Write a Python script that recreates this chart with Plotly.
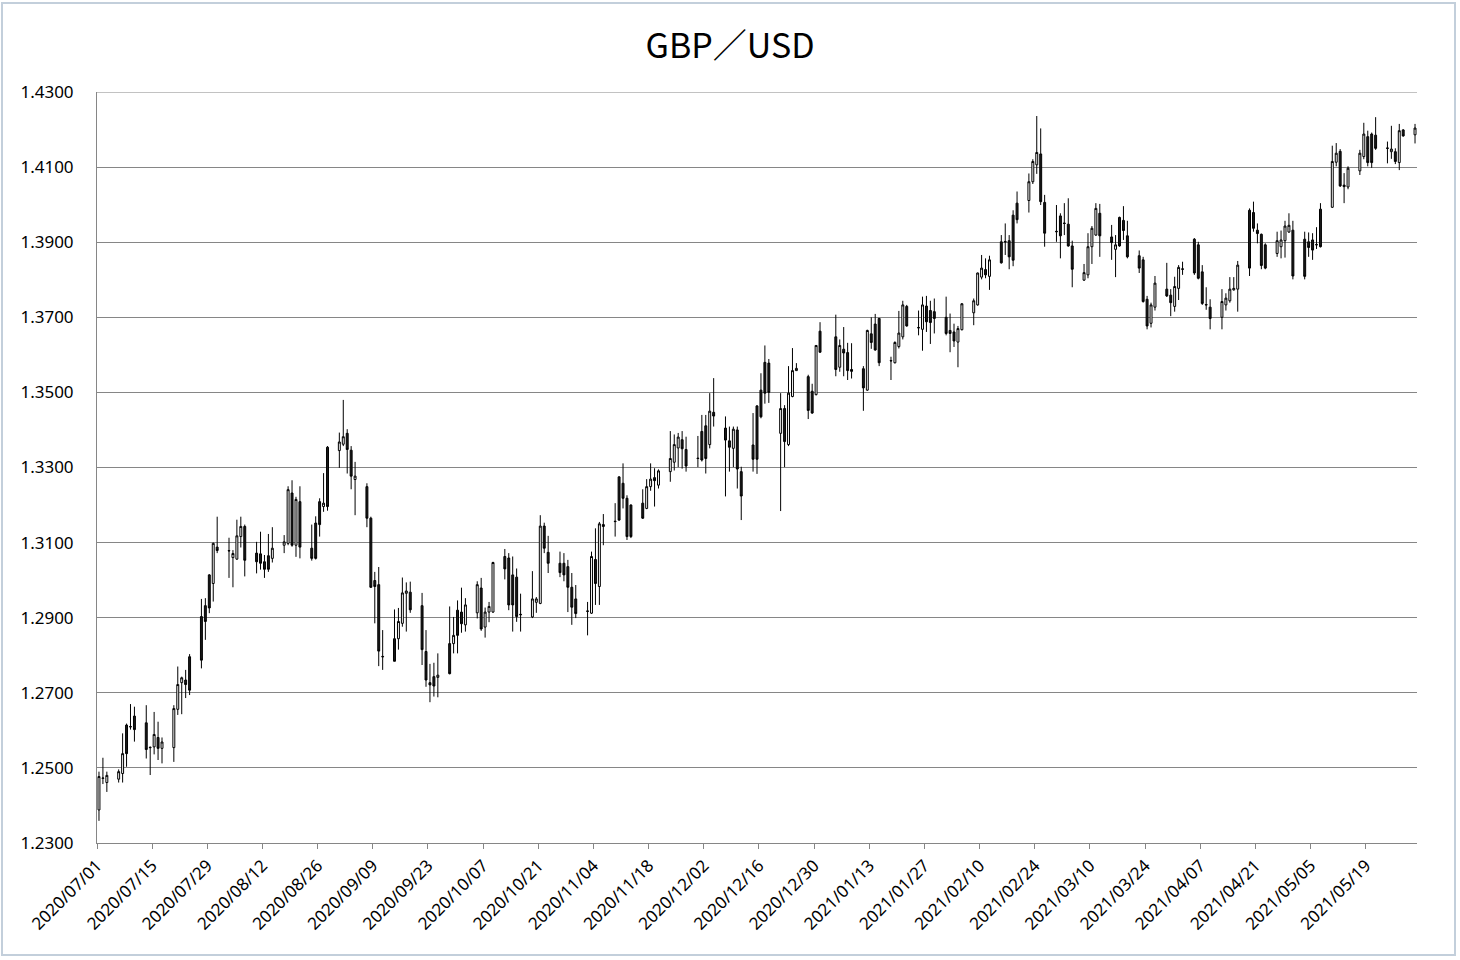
import pandas as pd
import plotly.graph_objects as go

dates = [
"2020-07-01","2020-07-02","2020-07-03","2020-07-06","2020-07-07","2020-07-08","2020-07-09","2020-07-10",
"2020-07-13","2020-07-14","2020-07-15","2020-07-16","2020-07-17","2020-07-20","2020-07-21","2020-07-22",
"2020-07-23","2020-07-24","2020-07-27","2020-07-28","2020-07-29","2020-07-30","2020-07-31",
"2020-08-03","2020-08-04","2020-08-05","2020-08-06","2020-08-07","2020-08-10","2020-08-11","2020-08-12",
"2020-08-13","2020-08-14","2020-08-17","2020-08-18","2020-08-19","2020-08-20","2020-08-21","2020-08-24",
"2020-08-25","2020-08-26","2020-08-27","2020-08-28","2020-08-31",
"2020-09-01","2020-09-02","2020-09-03","2020-09-04","2020-09-07","2020-09-08","2020-09-09","2020-09-10",
"2020-09-11","2020-09-14","2020-09-15","2020-09-16","2020-09-17","2020-09-18","2020-09-21","2020-09-22",
"2020-09-23","2020-09-24","2020-09-25","2020-09-28","2020-09-29","2020-09-30",
"2020-10-01","2020-10-02","2020-10-05","2020-10-06","2020-10-07","2020-10-08","2020-10-09","2020-10-12",
"2020-10-13","2020-10-14","2020-10-15","2020-10-16","2020-10-19","2020-10-20","2020-10-21","2020-10-22",
"2020-10-23","2020-10-26","2020-10-27","2020-10-28","2020-10-29","2020-10-30",
"2020-11-02","2020-11-03","2020-11-04","2020-11-05","2020-11-06","2020-11-09","2020-11-10","2020-11-11",
"2020-11-12","2020-11-13","2020-11-16","2020-11-17","2020-11-18","2020-11-19","2020-11-20","2020-11-23",
"2020-11-24","2020-11-25","2020-11-26","2020-11-27","2020-11-30",
"2020-12-01","2020-12-02","2020-12-03","2020-12-04","2020-12-07","2020-12-08","2020-12-09","2020-12-10",
"2020-12-11","2020-12-14","2020-12-15","2020-12-16","2020-12-17","2020-12-18","2020-12-21","2020-12-22",
"2020-12-23","2020-12-24","2020-12-25","2020-12-28","2020-12-29","2020-12-30","2020-12-31",
"2021-01-04","2021-01-05","2021-01-06","2021-01-07","2021-01-08","2021-01-11","2021-01-12","2021-01-13",
"2021-01-14","2021-01-15","2021-01-18","2021-01-19","2021-01-20","2021-01-21","2021-01-22","2021-01-25",
"2021-01-26","2021-01-27","2021-01-28","2021-01-29",
"2021-02-01","2021-02-02","2021-02-03","2021-02-04","2021-02-05","2021-02-08","2021-02-09","2021-02-10",
"2021-02-11","2021-02-12","2021-02-15","2021-02-16","2021-02-17","2021-02-18","2021-02-19","2021-02-22",
"2021-02-23","2021-02-24","2021-02-25","2021-02-26",
"2021-03-01","2021-03-02","2021-03-03","2021-03-04","2021-03-05","2021-03-08","2021-03-09","2021-03-10",
"2021-03-11","2021-03-12","2021-03-15","2021-03-16","2021-03-17","2021-03-18","2021-03-19","2021-03-22",
"2021-03-23","2021-03-24","2021-03-25","2021-03-26","2021-03-29","2021-03-30","2021-03-31",
"2021-04-01","2021-04-02","2021-04-05","2021-04-06","2021-04-07","2021-04-08","2021-04-09","2021-04-12",
"2021-04-13","2021-04-14","2021-04-15","2021-04-16","2021-04-19","2021-04-20","2021-04-21","2021-04-22",
"2021-04-23","2021-04-26","2021-04-27","2021-04-28","2021-04-29","2021-04-30",
"2021-05-03","2021-05-04","2021-05-05","2021-05-06","2021-05-07","2021-05-10","2021-05-11","2021-05-12",
"2021-05-13","2021-05-14","2021-05-17","2021-05-18","2021-05-19","2021-05-20","2021-05-21","2021-05-24",
"2021-05-25","2021-05-26","2021-05-27","2021-05-28","2021-05-31",
]

open_ = [
1.2388,1.2472,1.2461,1.2470,1.2485,1.2614,1.2609,1.2638,
1.2620,1.2555,1.2556,1.2581,1.2552,1.2554,1.2656,1.2727,
1.2734,1.2796,1.2903,1.2932,1.3014,1.2991,1.3088,
1.3079,1.3060,1.3056,1.3116,1.3143,1.3072,1.3070,1.3049,
1.3065,1.3058,1.3093,1.3098,1.3232,1.3093,1.3209,1.3085,
1.3152,1.3209,1.3196,1.3354,1.3345,
1.3362,1.3391,1.3346,1.3268,1.3249,1.3165,1.2999,1.2988,
1.2797,1.2844,1.2844,1.2885,1.2965,1.2968,1.2932,1.2810,
1.2727,1.2743,1.2741,1.2831,1.2831,1.2920,
1.2915,1.2881,1.2913,1.2979,1.2875,1.2915,1.2915,1.3063,
1.3059,1.3014,1.3008,1.2909,1.2902,1.2941,1.2938,1.3144,
1.3074,1.3045,1.3045,1.3036,1.2981,1.2950,
1.2918,1.2912,1.3055,1.2983,1.3148,1.3157,1.3275,1.3258,
1.3218,1.3200,1.3205,1.3191,1.3249,1.3273,1.3253,1.3289,
1.3314,1.3352,1.3374,1.3348,1.3325,
1.3396,1.3411,1.3361,1.3447,1.3405,1.3371,1.3351,1.3400,
1.3289,1.3360,1.3464,1.3506,1.3580,1.3578,1.3391,1.3457,
1.3361,1.3489,1.3558,1.3542,1.3503,1.3494,1.3663,
1.3648,1.3567,1.3615,1.3606,1.3561,1.3563,1.3506,1.3656,
1.3682,1.3697,1.3585,1.3579,1.3622,1.3648,1.3729,1.3673,
1.3668,1.3730,1.3718,1.3715,
1.3700,1.3665,1.3661,1.3634,1.3667,1.3712,1.3733,1.3807,
1.3827,1.3809,1.3901,1.3902,1.3904,1.3972,1.4004,1.4011,
1.4061,1.4106,1.4135,1.4006,
1.3929,1.3970,1.3951,1.3948,1.3890,1.3799,1.3813,1.3888,
1.3919,1.3977,1.3914,1.3881,1.3966,1.3958,1.3917,1.3864,
1.3853,1.3748,1.3684,1.3727,1.3775,1.3759,1.3729,
1.3777,1.3829,1.3908,1.3893,1.3821,1.3734,1.3727,1.3700,
1.3733,1.3744,1.3773,1.3775,1.3985,1.3979,1.3932,1.3921,
1.3893,1.3870,1.3888,1.3904,1.3927,1.3932,
1.3908,1.3901,1.3906,1.3894,1.3988,1.3993,1.4113,1.4142,
1.4052,1.4047,1.4090,1.4128,1.4181,1.4188,1.4185,1.4151,
1.4141,1.4141,1.4112,1.4199,1.4186,
]

high = [
1.2490,1.2527,1.2490,1.2496,1.2592,1.2618,1.2670,1.2663,
1.2667,1.2557,1.2649,1.2623,1.2581,1.2667,1.2770,1.2743,
1.2761,1.2803,1.2950,1.2952,1.3016,1.3100,1.3169,
1.3113,1.3080,1.3161,1.3169,1.3148,1.3102,1.3129,1.3067,
1.3123,1.3141,1.3120,1.3250,1.3266,1.3222,1.3250,1.3148,
1.3170,1.3218,1.3285,1.3357,1.3393,
1.3480,1.3402,1.3357,1.3315,1.3258,1.3169,1.3022,1.3035,
1.2867,1.2922,1.2926,1.3007,1.2994,1.2996,1.2966,1.2867,
1.2777,1.2780,1.2805,1.2930,1.2902,1.2946,
1.2980,1.2952,1.2997,1.3006,1.2927,1.2942,1.3049,1.3083,
1.3072,1.3063,1.3031,1.2964,1.3024,1.2955,1.3173,1.3153,
1.3118,1.3076,1.3072,1.3054,1.3019,1.2987,
1.2942,1.3076,1.3138,1.3155,1.3176,1.3205,1.3277,1.3311,
1.3226,1.3202,1.3242,1.3269,1.3311,1.3298,1.3295,1.3397,
1.3388,1.3392,1.3397,1.3382,1.3384,
1.3440,1.3440,1.3498,1.3538,1.3436,1.3409,1.3409,1.3409,
1.3302,1.3445,1.3466,1.3551,1.3625,1.3589,1.3498,1.3466,
1.3570,1.3618,1.3578,1.3547,1.3523,1.3626,1.3687,
1.3707,1.3641,1.3674,1.3632,1.3631,1.3570,1.3667,1.3700,
1.3709,1.3698,1.3595,1.3636,1.3717,1.3744,1.3733,1.3718,
1.3755,1.3757,1.3744,1.3750,
1.3755,1.3710,1.3683,1.3677,1.3738,1.3750,1.3819,1.3866,
1.3857,1.3864,1.3919,1.3950,1.3919,1.3985,1.4035,1.4083,
1.4121,1.4236,1.4203,1.4026,
1.3999,1.3977,1.4004,1.4017,1.3904,1.3842,1.3924,1.3943,
1.4004,1.4002,1.3946,1.3919,1.3968,1.3996,1.3957,1.3878,
1.3861,1.3757,1.3739,1.3810,1.3845,1.3775,1.3808,
1.3839,1.3848,1.3911,1.3901,1.3839,1.3780,1.3748,1.3775,
1.3764,1.3807,1.3807,1.3850,1.3990,1.4008,1.3950,1.3923,
1.3897,1.3928,1.3931,1.3957,1.3977,1.3957,
1.3928,1.3926,1.3924,1.3940,1.4004,1.4157,1.4164,1.4148,
1.4084,1.4102,1.4146,1.4218,1.4197,1.4192,1.4233,1.4168,
1.4210,1.4150,1.4215,1.4201,1.4215,
]

low = [
1.2359,1.2457,1.2436,1.2461,1.2461,1.2503,1.2602,1.2570,
1.2525,1.2481,1.2536,1.2521,1.2512,1.2516,1.2641,1.2643,
1.2686,1.2694,1.2765,1.2841,1.2912,1.2943,1.3072,
1.3006,1.2981,1.3054,1.3087,1.3010,1.3018,1.3028,1.3006,
1.3022,1.3047,1.3072,1.3093,1.3089,1.3062,1.3058,1.3052,
1.3055,1.3116,1.3182,1.3185,1.3299,
1.3357,1.3284,1.3242,1.3173,1.3141,1.2979,1.2885,1.2771,
1.2761,1.2784,1.2815,1.2876,1.2863,1.2913,1.2774,1.2716,
1.2675,1.2690,1.2688,1.2749,1.2805,1.2805,
1.2860,1.2863,1.2898,1.2865,1.2847,1.2888,1.2913,1.3002,
1.2920,1.2863,1.2889,1.2863,1.2899,1.2913,1.2936,1.3072,
1.3019,1.3008,1.2997,1.2915,1.2881,1.2899,
1.2853,1.2910,1.2934,1.2934,1.3093,1.3116,1.3158,1.3191,
1.3107,1.3112,1.3163,1.3189,1.3238,1.3196,1.3244,1.3262,
1.3292,1.3301,1.3297,1.3289,1.3301,
1.3316,1.3284,1.3351,1.3409,1.3223,1.3289,1.3301,1.3244,
1.3160,1.3289,1.3283,1.3431,1.3470,1.3472,1.3184,1.3301,
1.3357,1.3487,1.3557,1.3429,1.3443,1.3492,1.3606,
1.3543,1.3555,1.3543,1.3533,1.3537,1.3451,1.3504,1.3616,
1.3611,1.3570,1.3533,1.3577,1.3617,1.3641,1.3675,1.3652,
1.3611,1.3661,1.3629,1.3657,
1.3652,1.3607,1.3621,1.3567,1.3665,1.3679,1.3731,1.3801,
1.3804,1.3773,1.3843,1.3866,1.3828,1.3836,1.3950,1.3979,
1.4055,1.4082,1.3999,1.3888,
1.3901,1.3857,1.3919,1.3888,1.3780,1.3797,1.3804,1.3842,
1.3917,1.3861,1.3853,1.3807,1.3888,1.3906,1.3857,1.3818,
1.3739,1.3668,1.3673,1.3718,1.3754,1.3703,1.3715,
1.3746,1.3813,1.3813,1.3801,1.3733,1.3720,1.3668,1.3668,
1.3718,1.3739,1.3771,1.3715,1.3810,1.3928,1.3897,1.3828,
1.3828,1.3861,1.3857,1.3859,1.3925,1.3801,
1.3801,1.3861,1.3853,1.3882,1.3886,1.3991,1.4102,1.4047,
1.4004,1.4041,1.4079,1.4121,1.4102,1.4098,1.4146,1.4110,
1.4122,1.4108,1.4092,1.4181,1.4163,
]

close = [
1.2477,1.2473,1.2480,1.2490,1.2538,1.2538,1.2610,1.2602,
1.2549,1.2554,1.2589,1.2552,1.2569,1.2658,1.2722,1.2740,
1.2722,1.2707,1.2787,1.2890,1.2926,1.3098,1.3079,
1.3078,1.3071,1.3118,1.3143,1.3053,1.3049,1.3045,1.3029,
1.3029,1.3085,1.3102,1.3241,1.3093,1.3215,1.3088,1.3058,
1.3058,1.3148,1.3205,1.3196,1.3368,
1.3382,1.3348,1.3277,1.3277,1.3165,1.2981,1.2983,1.2811,
1.2796,1.2784,1.2890,1.2966,1.2971,1.2921,1.2815,1.2734,
1.2721,1.2718,1.2747,1.2751,1.2853,1.2853,
1.2884,1.2934,1.2988,1.2870,1.2915,1.2930,1.3047,1.3030,
1.2934,1.2934,1.2903,1.2908,1.2950,1.2950,1.3144,1.3085,
1.3045,1.3020,1.3014,1.2981,1.2928,1.2911,
1.2917,1.3063,1.2991,1.3150,1.3143,1.3156,1.3160,1.3218,
1.3116,1.3116,1.3165,1.3249,1.3269,1.3265,1.3291,1.3324,
1.3361,1.3381,1.3350,1.3304,1.3324,
1.3320,1.3324,1.3450,1.3437,1.3373,1.3354,1.3402,1.3296,
1.3224,1.3322,1.3322,1.3435,1.3498,1.3500,1.3457,1.3369,
1.3498,1.3558,1.3564,1.3452,1.3445,1.3625,1.3607,
1.3561,1.3625,1.3605,1.3558,1.3556,1.3512,1.3665,1.3633,
1.3613,1.3579,1.3584,1.3633,1.3658,1.3733,1.3677,1.3672,
1.3733,1.3688,1.3686,1.3697,
1.3657,1.3657,1.3637,1.3670,1.3736,1.3744,1.3818,1.3831,
1.3813,1.3853,1.3845,1.3901,1.3861,1.3852,1.3960,1.4061,
1.4115,1.4139,1.4008,1.3924,
1.3928,1.3917,1.3950,1.3890,1.3828,1.3819,1.3888,1.3937,
1.3990,1.3917,1.3899,1.3893,1.3890,1.3931,1.3861,1.3831,
1.3742,1.3677,1.3733,1.3791,1.3757,1.3739,1.3782,
1.3833,1.3828,1.3818,1.3804,1.3737,1.3733,1.3697,1.3742,
1.3751,1.3775,1.3777,1.3839,1.3831,1.3937,1.3923,1.3838,
1.3831,1.3904,1.3906,1.3943,1.3945,1.3810,
1.3809,1.3886,1.3879,1.3893,1.3888,1.4115,1.4137,1.4050,
1.4048,1.4097,1.4137,1.4188,1.4112,1.4112,1.4150,1.4150,
1.4148,1.4115,1.4197,1.4183,1.4204,
]

tick_dates = pd.date_range("2020-07-01", "2021-05-19", freq="14D")
tick_labels = [d.strftime("%Y/%m/%d") for d in tick_dates]
y_ticks = [1.23, 1.25, 1.27, 1.29, 1.31, 1.33, 1.35, 1.37, 1.39, 1.41, 1.43]
y_min, y_max = 1.23, 1.43

# candles are drawn in the middle of each day's slot on the date axis
x = pd.to_datetime(dates) + pd.Timedelta(hours=12)

fig = go.Figure(go.Candlestick(
    x=x, open=open_, high=high, low=low, close=close,
    increasing=dict(line=dict(color="#000000", width=1), fillcolor="#ffffff"),
    decreasing=dict(line=dict(color="#000000", width=1), fillcolor="#1a1a1a"),
    whiskerwidth=0,
    hoverinfo="skip",
    showlegend=False,
))

fig.update_layout(
    width=1460, height=960,
    paper_bgcolor="#ffffff", plot_bgcolor="#ffffff",
    margin=dict(l=97, r=43, t=92, b=117),
    title=dict(text="GBP／USD", x=0.5, xref="container", xanchor="center",
               y=1 - 46 / 960, yref="container", yanchor="middle",
               font=dict(family="Noto Sans CJK JP", size=34, color="#000000")),
    font=dict(family="Noto Sans", color="#000000"),
    shapes=[
        dict(type="rect", xref="paper", yref="paper",
             x0=(2 - 97) / 1320, x1=(1455 - 97) / 1320,
             y0=(843 - 955) / 751, y1=(843 - 3) / 751,
             line=dict(color="#c3cfdb", width=2), fillcolor="rgba(0,0,0,0)",
             layer="below"),
        # top gridline at the axis maximum
        dict(type="line", xref="paper", yref="y", x0=0, x1=1, y0=y_max, y1=y_max,
             line=dict(color="#868686", width=1), layer="below"),
    ],
)

fig.update_xaxes(
    type="date",
    range=["2020-07-01", "2021-06-01"],
    rangeslider=dict(visible=False),
    tickmode="array", tickvals=tick_dates, ticktext=tick_labels,
    tickangle=-45, tickfont=dict(size=17, family="Noto Sans"),
    ticks="outside", ticklen=5, tickcolor="#868686",
    showline=True, linecolor="#868686", linewidth=1,
    showgrid=False, zeroline=False,
)

fig.update_yaxes(
    range=[y_min, y_max], tickmode="array", tickvals=y_ticks,
    tickformat=".4f", tickfont=dict(size=17, family="Noto Sans"),
    showgrid=True, gridcolor="#868686", gridwidth=1,
    showline=True, linecolor="#868686", linewidth=1,
    ticks="", ticklabelstandoff=19, zeroline=False,
)

fig.write_html("out.html")
